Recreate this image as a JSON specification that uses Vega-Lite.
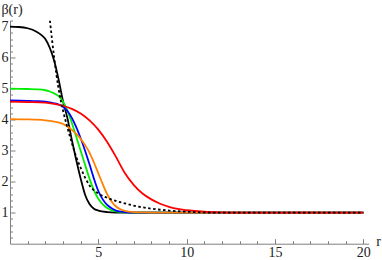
{
  "$schema": "https://vega.github.io/schema/vega-lite/v6.json",
  "autosize": {"type": "none"},
  "width": 358.6,
  "height": 223.2,
  "padding": {"left": 10, "top": 20.5, "right": 13.4, "bottom": 16.3},
  "config": {
    "view": {"stroke": null},
    "axis": {"grid": false, "domainColor": "#808080", "tickColor": "#808080", "domainWidth": 1, "tickWidth": 1,
      "labelFont": "Liberation Serif", "labelFontSize": 14, "labelColor": "#222",
      "titleFont": "Liberation Serif", "titleFontWeight": "normal", "titleFontSize": 14, "titleColor": "#222"}
  },
  "datasets": {
    "curves": [
      {"s": "k", "r": 0, "v": 7.0}, {"s": "k", "r": 0.5, "v": 6.99}, {"s": "k", "r": 1, "v": 6.95}, {"s": "k", "r": 1.5, "v": 6.84},
      {"s": "k", "r": 1.8, "v": 6.72}, {"s": "k", "r": 2.0, "v": 6.6}, {"s": "k", "r": 2.25, "v": 6.32}, {"s": "k", "r": 2.5, "v": 5.9},
      {"s": "k", "r": 2.75, "v": 5.3}, {"s": "k", "r": 3.0, "v": 4.6}, {"s": "k", "r": 3.25, "v": 4.05}, {"s": "k", "r": 3.5, "v": 3.35},
      {"s": "k", "r": 3.75, "v": 2.7}, {"s": "k", "r": 4.0, "v": 2.1}, {"s": "k", "r": 4.25, "v": 1.58}, {"s": "k", "r": 4.5, "v": 1.28},
      {"s": "k", "r": 4.75, "v": 1.13}, {"s": "k", "r": 5.0, "v": 1.07}, {"s": "k", "r": 5.5, "v": 1.02}, {"s": "k", "r": 6, "v": 1.005},
      {"s": "k", "r": 7, "v": 1.0}, {"s": "k", "r": 20, "v": 1.0},

      {"s": "g", "r": 0, "v": 5.0}, {"s": "g", "r": 1, "v": 4.99}, {"s": "g", "r": 1.5, "v": 4.98}, {"s": "g", "r": 2.0, "v": 4.95},
      {"s": "g", "r": 2.25, "v": 4.91}, {"s": "g", "r": 2.5, "v": 4.85}, {"s": "g", "r": 2.75, "v": 4.76}, {"s": "g", "r": 3.0, "v": 4.58},
      {"s": "g", "r": 3.25, "v": 4.3}, {"s": "g", "r": 3.5, "v": 3.9}, {"s": "g", "r": 3.75, "v": 3.45}, {"s": "g", "r": 4.0, "v": 3.0},
      {"s": "g", "r": 4.25, "v": 2.55}, {"s": "g", "r": 4.5, "v": 2.1}, {"s": "g", "r": 4.75, "v": 1.72}, {"s": "g", "r": 5.0, "v": 1.45},
      {"s": "g", "r": 5.25, "v": 1.27}, {"s": "g", "r": 5.5, "v": 1.15}, {"s": "g", "r": 6.0, "v": 1.04}, {"s": "g", "r": 6.5, "v": 1.01},
      {"s": "g", "r": 7, "v": 1.0}, {"s": "g", "r": 20, "v": 1.0},

      {"s": "b", "r": 0, "v": 4.62}, {"s": "b", "r": 1, "v": 4.61}, {"s": "b", "r": 1.5, "v": 4.6}, {"s": "b", "r": 2.0, "v": 4.58},
      {"s": "b", "r": 2.5, "v": 4.53}, {"s": "b", "r": 2.75, "v": 4.49}, {"s": "b", "r": 3.0, "v": 4.42}, {"s": "b", "r": 3.25, "v": 4.28},
      {"s": "b", "r": 3.5, "v": 4.06}, {"s": "b", "r": 3.75, "v": 3.76}, {"s": "b", "r": 4.0, "v": 3.4}, {"s": "b", "r": 4.25, "v": 3.0},
      {"s": "b", "r": 4.5, "v": 2.56}, {"s": "b", "r": 4.75, "v": 2.1}, {"s": "b", "r": 5.0, "v": 1.7}, {"s": "b", "r": 5.25, "v": 1.43},
      {"s": "b", "r": 5.5, "v": 1.25}, {"s": "b", "r": 5.75, "v": 1.14}, {"s": "b", "r": 6.0, "v": 1.07}, {"s": "b", "r": 6.5, "v": 1.02},
      {"s": "b", "r": 7, "v": 1.0}, {"s": "b", "r": 20, "v": 1.0},

      {"s": "o", "r": 0, "v": 4.02}, {"s": "o", "r": 1, "v": 4.01}, {"s": "o", "r": 1.5, "v": 4.0}, {"s": "o", "r": 2.0, "v": 3.98},
      {"s": "o", "r": 2.5, "v": 3.94}, {"s": "o", "r": 2.83, "v": 3.9}, {"s": "o", "r": 3.0, "v": 3.86}, {"s": "o", "r": 3.25, "v": 3.78},
      {"s": "o", "r": 3.5, "v": 3.67}, {"s": "o", "r": 3.75, "v": 3.54}, {"s": "o", "r": 4.0, "v": 3.38}, {"s": "o", "r": 4.25, "v": 3.18},
      {"s": "o", "r": 4.5, "v": 2.94}, {"s": "o", "r": 4.75, "v": 2.62}, {"s": "o", "r": 5.0, "v": 2.27}, {"s": "o", "r": 5.25, "v": 1.92},
      {"s": "o", "r": 5.5, "v": 1.6}, {"s": "o", "r": 5.75, "v": 1.36}, {"s": "o", "r": 6.0, "v": 1.2}, {"s": "o", "r": 6.25, "v": 1.11},
      {"s": "o", "r": 6.5, "v": 1.06}, {"s": "o", "r": 7, "v": 1.02}, {"s": "o", "r": 7.5, "v": 1.01}, {"s": "o", "r": 8.3, "v": 1.0},
      {"s": "o", "r": 20, "v": 1.0},

      {"s": "r", "r": 0, "v": 4.58}, {"s": "r", "r": 1, "v": 4.57}, {"s": "r", "r": 2.0, "v": 4.55}, {"s": "r", "r": 2.5, "v": 4.51},
      {"s": "r", "r": 3.0, "v": 4.45}, {"s": "r", "r": 3.5, "v": 4.35}, {"s": "r", "r": 4.0, "v": 4.2}, {"s": "r", "r": 4.5, "v": 3.98},
      {"s": "r", "r": 5.0, "v": 3.68}, {"s": "r", "r": 5.5, "v": 3.28}, {"s": "r", "r": 6.0, "v": 2.8}, {"s": "r", "r": 6.5, "v": 2.28},
      {"s": "r", "r": 7.0, "v": 1.9}, {"s": "r", "r": 7.5, "v": 1.62}, {"s": "r", "r": 8.0, "v": 1.43}, {"s": "r", "r": 8.5, "v": 1.29},
      {"s": "r", "r": 9.0, "v": 1.19}, {"s": "r", "r": 9.5, "v": 1.12}, {"s": "r", "r": 10, "v": 1.08}, {"s": "r", "r": 11, "v": 1.03},
      {"s": "r", "r": 12, "v": 1.01}, {"s": "r", "r": 13, "v": 1.0}, {"s": "r", "r": 20, "v": 1.0},

      {"s": "d", "r": 2.26, "v": 7.2}, {"s": "d", "r": 2.5, "v": 6.0}, {"s": "d", "r": 2.75, "v": 5.0}, {"s": "d", "r": 3.0, "v": 4.3},
      {"s": "d", "r": 3.25, "v": 3.75}, {"s": "d", "r": 3.5, "v": 3.25}, {"s": "d", "r": 3.75, "v": 2.8}, {"s": "d", "r": 4.0, "v": 2.45},
      {"s": "d", "r": 4.5, "v": 1.88}, {"s": "d", "r": 5.0, "v": 1.62}, {"s": "d", "r": 5.5, "v": 1.48}, {"s": "d", "r": 6.0, "v": 1.38},
      {"s": "d", "r": 6.5, "v": 1.3}, {"s": "d", "r": 7.0, "v": 1.23}, {"s": "d", "r": 8.0, "v": 1.13}, {"s": "d", "r": 9.0, "v": 1.07},
      {"s": "d", "r": 10, "v": 1.03}, {"s": "d", "r": 11, "v": 1.01}, {"s": "d", "r": 12, "v": 1.0}, {"s": "d", "r": 20, "v": 1.0}
    ]
  },
  "data": {"name": "curves"},
  "layer": [
    {
      "mark": {"type": "point", "opacity": 0},
      "encoding": {
        "x": {"field": "r", "type": "quantitative", "scale": {"domain": [0, 20.3], "nice": false, "zero": false},
          "axis": {"orient": "bottom", "values": [1, 2, 3, 4, 6, 7, 8, 9, 11, 12, 13, 14, 16, 17, 18, 19], "labels": false, "tickSize": -3, "domain": false, "title": null}},
        "y": {"field": "v", "type": "quantitative", "scale": {"domain": [0, 7.2], "nice": false, "zero": false},
          "axis": {"orient": "left", "values": [0.2, 0.4, 0.6, 0.8, 1.2, 1.4, 1.6, 1.8, 2.2, 2.4, 2.6, 2.8, 3.2, 3.4, 3.6, 3.8, 4.2, 4.4, 4.6, 4.8, 5.2, 5.4, 5.6, 5.8, 6.2, 6.4, 6.6, 6.8, 7.2], "labels": false, "tickSize": -2.5, "domain": false, "title": null}}
      }
    },
    {
      "encoding": {
        "x": {"field": "r", "type": "quantitative", "scale": {"domain": [0, 20.3], "nice": false, "zero": false},
          "axis": {"orient": "bottom", "values": [5, 10, 15, 20], "tickSize": -5, "labelPadding": 7, "title": "r",
            "titleX": 368, "titleY": -2, "titleAlign": "center", "titleBaseline": "middle", "titleAngle": 0}},
        "y": {"field": "v", "type": "quantitative", "scale": {"domain": [0, 7.2], "nice": false, "zero": false},
          "axis": {"orient": "left", "values": [1, 2, 3, 4, 5, 6, 7], "tickSize": -5, "labelPadding": 7, "title": "β(r)",
            "titleX": -9, "titleY": -11, "titleAlign": "left", "titleBaseline": "middle", "titleAngle": 0}}
      },
      "layer": [
        {"transform": [{"filter": "datum.s === 'k'"}], "mark": {"type": "line", "interpolate": "monotone", "strokeWidth": 1.8, "color": "#000000", "clip": true}},
        {"transform": [{"filter": "datum.s === 'g'"}], "mark": {"type": "line", "interpolate": "monotone", "strokeWidth": 1.8, "color": "#00ee00", "clip": true}},
        {"transform": [{"filter": "datum.s === 'b'"}], "mark": {"type": "line", "interpolate": "monotone", "strokeWidth": 1.8, "color": "#0000ff", "clip": true}},
        {"transform": [{"filter": "datum.s === 'o'"}], "mark": {"type": "line", "interpolate": "monotone", "strokeWidth": 1.8, "color": "#ff8000", "clip": true}},
        {"transform": [{"filter": "datum.s === 'r'"}], "mark": {"type": "line", "interpolate": "monotone", "strokeWidth": 1.8, "color": "#ff0000", "clip": true}},
        {"transform": [{"filter": "datum.s === 'd'"}], "mark": {"type": "line", "interpolate": "monotone", "strokeWidth": 1.8, "color": "#000000", "strokeDash": [2.5, 2.5], "clip": true}}
      ]
    }
  ],
  "resolve": {"axis": {"x": "independent", "y": "independent"}}
}
